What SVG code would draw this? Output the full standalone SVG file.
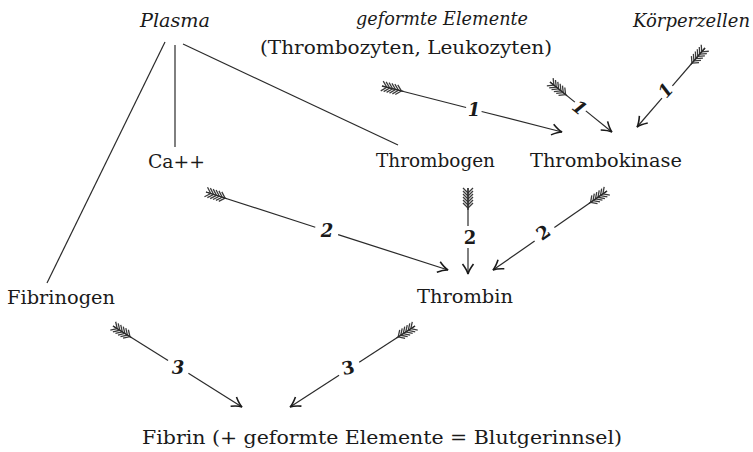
<svg xmlns="http://www.w3.org/2000/svg" xmlns:xlink="http://www.w3.org/1999/xlink" width="753" height="452" viewBox="0 0 753 452">
<style>
text{font-family:'DejaVu Serif','Liberation Serif',serif;font-size:18px;fill:#1a1a1a}
.i{font-style:italic}
.n{text-anchor:middle;font-weight:bold}
.ln{stroke:#2a2a2a;stroke-width:1.2;fill:none}
.fl{stroke:#3a3a3a;stroke-width:1.3;fill:none}
</style>
<defs>
<marker id="ah" viewBox="-12 -7 14 14" refX="0" refY="0" markerWidth="14" markerHeight="14" markerUnits="userSpaceOnUse" orient="auto" overflow="visible">
<path d="M-10,-5.5 Q-4,-1 0,0 Q-4,1 -10,5.5" stroke="#1a1a1a" stroke-width="1.6" fill="none"/>
</marker>
<g id="fl" class="fl">
<line x1="0" y1="0" x2="22" y2="0"/>
<path d="M5,0 L0,-5 M8,0 L3,-5 M11,0 L6,-5 M14,0 L9,-5 M17,0 L12,-5 M20,0 L15,-5 M5,0 L0,5 M8,0 L3,5 M11,0 L6,5 M14,0 L9,5 M17,0 L12,5 M20,0 L15,5"/>
</g>
</defs>
<rect width="753" height="452" fill="#ffffff"/>

<g id="plasma"><text class="i" x="140" y="27" textLength="70" lengthAdjust="spacingAndGlyphs">Plasma</text></g>
<g id="geformte-elemente">
<text class="i" x="356" y="25" textLength="172" lengthAdjust="spacingAndGlyphs">geformte Elemente</text>
<text x="260" y="54" textLength="292" lengthAdjust="spacingAndGlyphs">(Thrombozyten, Leukozyten)</text>
</g>
<g id="koerperzellen"><text class="i" x="633" y="27" textLength="117" lengthAdjust="spacingAndGlyphs">Körperzellen</text></g>
<g id="ca"><text x="148" y="168" textLength="57" lengthAdjust="spacingAndGlyphs">Ca++</text></g>
<g id="thrombogen"><text x="376" y="167" textLength="119" lengthAdjust="spacingAndGlyphs">Thrombogen</text></g>
<g id="thrombokinase"><text x="530" y="167" textLength="152" lengthAdjust="spacingAndGlyphs">Thrombokinase</text></g>
<g id="thrombin"><text x="417" y="303" textLength="96" lengthAdjust="spacingAndGlyphs">Thrombin</text></g>
<g id="fibrinogen"><text x="7" y="304" textLength="108" lengthAdjust="spacingAndGlyphs">Fibrinogen</text></g>
<g id="fibrin"><text x="142" y="444" textLength="480" lengthAdjust="spacingAndGlyphs">Fibrin (+ geformte  Elemente = Blutgerinnsel)</text></g>

<g id="connectors">
<line class="ln" x1="165" y1="42" x2="47" y2="283"/>
<line class="ln" x1="175" y1="45" x2="175" y2="147"/>
<line class="ln" x1="183" y1="44" x2="398" y2="145"/>

<g transform="translate(382,86) rotate(14.34)"><use xlink:href="#fl"/><line class="ln" x1="0" y1="0" x2="86.8" y2="0"/><line class="ln" x1="102.8" y1="0" x2="185.8" y2="0" marker-end="url(#ah)"/></g>
<text class="n i" x="474" y="116">1</text>

<g transform="translate(550,82) rotate(38.9)"><use xlink:href="#fl"/><line class="ln" x1="0" y1="0" x2="32" y2="0"/><line class="ln" x1="46" y1="0" x2="79.6" y2="0" marker-end="url(#ah)"/></g>
<text class="n i" transform="translate(580,107) rotate(39)" y="7">1</text>

<g transform="translate(705,48) rotate(130.7)"><use xlink:href="#fl"/><line class="ln" x1="0" y1="0" x2="50" y2="0"/><line class="ln" x1="66" y1="0" x2="104.2" y2="0" marker-end="url(#ah)"/></g>
<text class="n i" transform="translate(665,90) rotate(-49)" y="7">1</text>

<g transform="translate(206,192) rotate(17.86)"><use xlink:href="#fl"/><line class="ln" x1="0" y1="0" x2="114.8" y2="0"/><line class="ln" x1="138.8" y1="0" x2="254.3" y2="0" marker-end="url(#ah)"/></g>
<text class="n i" x="327" y="237">2</text>

<g transform="translate(468,188) rotate(90)"><use xlink:href="#fl"/><line class="ln" x1="0" y1="0" x2="38" y2="0"/><line class="ln" x1="60" y1="0" x2="86" y2="0" marker-end="url(#ah)"/></g>
<text class="n" x="470" y="244">2</text>

<g transform="translate(607,191) rotate(145.3)"><use xlink:href="#fl"/><line class="ln" x1="0" y1="0" x2="64" y2="0"/><line class="ln" x1="88" y1="0" x2="138.7" y2="0" marker-end="url(#ah)"/></g>
<text class="n" transform="translate(543,232) rotate(-34.7)" y="7">2</text>

<g transform="translate(113,326) rotate(32.1)"><use xlink:href="#fl"/><line class="ln" x1="0" y1="0" x2="65" y2="0"/><line class="ln" x1="89" y1="0" x2="152.3" y2="0" marker-end="url(#ah)"/></g>
<text class="n i" x="178" y="374">3</text>

<g transform="translate(415,326) rotate(147.05)"><use xlink:href="#fl"/><line class="ln" x1="0" y1="0" x2="66.5" y2="0"/><line class="ln" x1="90.5" y1="0" x2="148.9" y2="0" marker-end="url(#ah)"/></g>
<text class="n" transform="translate(348,367) rotate(-12)" y="7">3</text>
</g>
</svg>
